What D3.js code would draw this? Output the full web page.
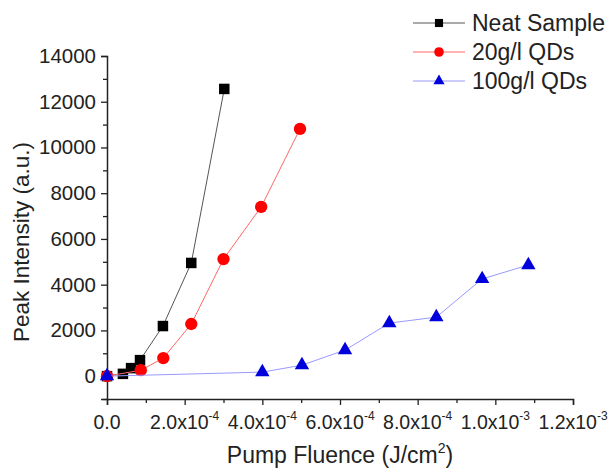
<html>
<head>
<script src="https://d3js.org/d3.v7.min.js"></script>
<style>
  body { margin: 0; background: #fff; }
  text { font-family: Arial, "Liberation Sans", sans-serif; fill: #222; }
</style>
</head>
<body>
<div id="chart"></div>
<script>
// data
var neatX = [0, 4.1e-5, 6.2e-5, 8.5e-5, 1.44e-4, 2.17e-4, 3.02e-4];
var neatY = [0, 100, 350, 700, 2190, 4950, 12560];
var qd20X = [0, 8.7e-5, 1.45e-4, 2.17e-4, 3.0e-4, 3.97e-4, 4.97e-4];
var qd20Y = [0, 260, 790, 2280, 5120, 7400, 10810];
var qd100X = [0, 4.0e-4, 5.02e-4, 6.13e-4, 7.27e-4, 8.48e-4, 9.66e-4, 1.085e-3];
var qd100Y = [0, 175, 480, 1140, 2320, 2580, 4250, 4860];
var seriesNames = ["Neat Sample", "20g/l QDs", "100g/l QDs"];
var xTicks = [0, 2e-4, 4e-4, 6e-4, 8e-4, 1e-3, 1.2e-3];
var xTickMant = ["0.0", "2.0x10", "4.0x10", "6.0x10", "8.0x10", "1.0x10", "1.2x10"];
var xTickExp = ["", "-4", "-4", "-4", "-4", "-3", "-3"];
var yTicks = [0, 2000, 4000, 6000, 8000, 10000, 12000, 14000];

var W = 609, H = 470;
var margin = {top: 56, right: 36, bottom: 71, left: 107};
var width = W - margin.left - margin.right,
    height = H - margin.top - margin.bottom;

var svg = d3.select("#chart").append("svg")
    .attr("width", W).attr("height", H);
var g = svg.append("g")
    .attr("transform", "translate(" + margin.left + "," + margin.top + ")");

var x = d3.scaleLinear().domain([0, 1.2e-3]).range([0, width]);
var y = d3.scaleLinear().domain([-1000, 14000]).range([height, 0]);

// minor ticks
var xMinor = d3.range(1e-4, 1.2e-3, 2e-4);
var yMinor = d3.range(-1000, 14000, 2000);

var xAxis = g.append("g").attr("transform", "translate(0," + height + ")")
    .call(d3.axisBottom(x).tickValues(xTicks).tickSize(6).tickFormat(""));
xAxis.append("g").call(d3.axisBottom(x).tickValues(xMinor).tickSize(4).tickFormat(""))
    .select(".domain").remove();
var yAxis = g.append("g")
    .call(d3.axisLeft(y).tickValues(yTicks).tickSize(6).tickFormat(""));
yAxis.append("g").call(d3.axisLeft(y).tickValues(yMinor).tickSize(4).tickFormat(""))
    .select(".domain").remove();
g.selectAll(".domain").attr("stroke", "#222").attr("stroke-width", 1.5);
g.selectAll(".tick line").attr("stroke", "#222").attr("stroke-width", 1.3);

// y tick labels
g.selectAll(".ylab").data(yTicks).enter().append("text")
    .attr("x", -11).attr("y", function(d) { return y(d) + 7; })
    .attr("text-anchor", "end").style("font-size", "20.5px")
    .text(function(d) { return d; });

// x tick labels with superscripts
var xl = g.selectAll(".xlab").data(xTicks).enter().append("text")
    .attr("x", function(d) { return x(d); }).attr("y", height + 30)
    .attr("text-anchor", "middle").style("font-size", "19.5px");
xl.append("tspan").text(function(d, i) { return xTickMant[i]; });
xl.append("tspan").attr("dy", -9).style("font-size", "12px")
    .text(function(d, i) { return xTickExp[i]; });

// axis titles
svg.append("text").attr("transform", "translate(29,242) rotate(-90)")
    .attr("text-anchor", "middle").style("font-size", "22.5px")
    .text("Peak Intensity (a.u.)");
var xt = svg.append("text").attr("x", 340).attr("y", 463)
    .attr("text-anchor", "middle").style("font-size", "23px");
xt.append("tspan").text("Pump Fluence (J/cm");
xt.append("tspan").attr("dy", -10).style("font-size", "14px").text("2");
xt.append("tspan").attr("dy", 10).text(")");

var series = [
  {xs: neatX, ys: neatY, line: "#555", fill: "#000", sym: d3.symbolSquare, size: 110},
  {xs: qd20X, ys: qd20Y, line: "#f66", fill: "#f00", sym: d3.symbolCircle, size: 120},
  {xs: qd100X, ys: qd100Y, line: "#99f", fill: "#00d", sym: d3.symbolTriangle, size: 90}
];

var line = d3.line().x(function(d) { return x(d[0]); }).y(function(d) { return y(d[1]); });

series.forEach(function(s) {
  var pts = s.xs.map(function(v, i) { return [v, s.ys[i]]; });
  g.append("path").datum(pts).attr("d", line)
    .attr("fill", "none").attr("stroke", s.line).attr("stroke-width", 1);
  g.selectAll(null).data(pts).enter().append("path")
    .attr("d", d3.symbol().type(s.sym).size(s.size))
    .attr("transform", function(d) { return "translate(" + x(d[0]) + "," + y(d[1]) + ")"; })
    .attr("fill", s.fill);
});

// legend
var leg = svg.append("g");
series.forEach(function(s, i) {
  var ly = 23 + i * 29;
  leg.append("line").attr("x1", 413).attr("x2", 465).attr("y1", ly).attr("y2", ly)
    .attr("stroke", s.line).attr("stroke-width", 1);
  leg.append("path").attr("d", d3.symbol().type(s.sym).size(s.size * 0.6))
    .attr("transform", "translate(439," + ly + ")").attr("fill", s.fill);
  leg.append("text").attr("x", 472).attr("y", ly + 8).style("font-size", "23px")
    .text(seriesNames[i]);
});
</script>
</body>
</html>
